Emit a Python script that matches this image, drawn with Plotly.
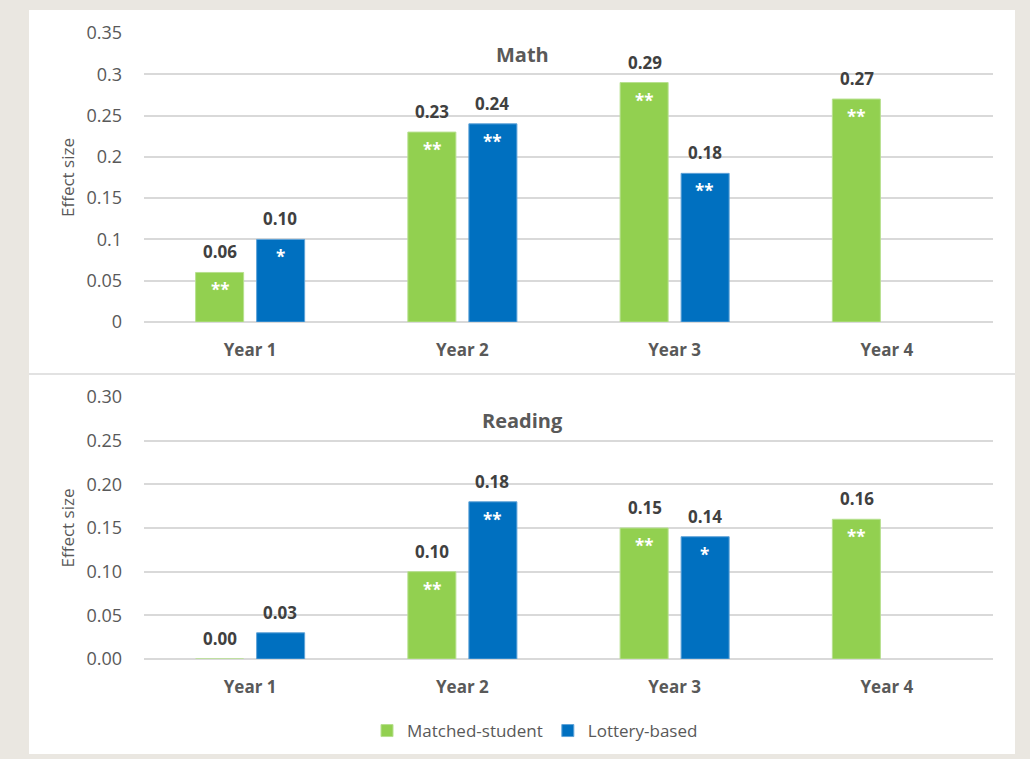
import plotly.graph_objects as go
from plotly.subplots import make_subplots

years = ["Year 1", "Year 2", "Year 3", "Year 4"]
math_matched = [0.06, 0.23, 0.29, 0.27]
math_lottery = [0.10, 0.24, 0.18, None]
read_matched = [0.00, 0.10, 0.15, 0.16]
read_lottery = [0.03, 0.18, 0.14, None]
math_matched_sig = ["**", "**", "**", "**"]
math_lottery_sig = ["*", "**", "**", ""]
read_matched_sig = ["", "**", "**", "**"]
read_lottery_sig = ["", "**", "*", ""]
math_ticks = [0, 0.05, 0.1, 0.15, 0.2, 0.25, 0.3, 0.35]
math_ticktext = ["0", "0.05", "0.1", "0.15", "0.2", "0.25", "0.3", "0.35"]
read_ticks = [0, 0.05, 0.10, 0.15, 0.20, 0.25, 0.30]
read_ticktext = ["0.00", "0.05", "0.10", "0.15", "0.20", "0.25", "0.30"]

GREEN = "#92D050"
BLUE = "#0070C0"
W, H = 1030, 759
FONT = "Open Sans"
DARK = "#404040"
GRAY = "#595959"
GRID = "#D9D9D9"

fig = make_subplots(rows=2, cols=1)

for row, (m, l) in enumerate([(math_matched, math_lottery), (read_matched, read_lottery)], start=1):
    fig.add_trace(go.Bar(x=years, y=m, name="Matched-student", marker=dict(color=GREEN, line=dict(color="#B7E08F", width=1)),
                         showlegend=(row == 1), legendgroup="m", hoverinfo="skip"), row=row, col=1)
    fig.add_trace(go.Bar(x=years, y=l, name="Lottery-based", marker=dict(color=BLUE, line=dict(color="#5FA3D8", width=1)),
                         showlegend=(row == 1), legendgroup="l", hoverinfo="skip"), row=row, col=1)

annotations = []
def add_labels(vals, sigs, xref, yref, shift, fmt):
    for yr, v, s in zip(years, vals, sigs):
        if v is None:
            continue
        annotations.append(dict(x=yr, y=v, xref=xref, yref=yref, xshift=shift, yshift=7,
                                text="<b>%s</b>" % fmt.format(v), showarrow=False, yanchor="bottom",
                                font=dict(family=FONT, size=17, color=DARK)))
        if s:
            annotations.append(dict(x=yr, y=v, xref=xref, yref=yref, xshift=shift, yshift=-4,
                                    text="<b>%s</b>" % s, showarrow=False, yanchor="top",
                                    font=dict(family=FONT, size=17, color="white")))

add_labels(math_matched, math_matched_sig, "x", "y", -30, "{:.2f}")
add_labels(math_lottery, math_lottery_sig, "x", "y", 30, "{:.2f}")
add_labels(read_matched, read_matched_sig, "x2", "y2", -30, "{:.2f}")
add_labels(read_lottery, read_lottery_sig, "x2", "y2", 30, "{:.2f}")

annotations.append(dict(x=522 / W, y=1 - 55 / H, xref="paper", yref="paper", yanchor="middle", text="<b>Math</b>",
                        showarrow=False, font=dict(family=FONT, size=20, color=GRAY)))
annotations.append(dict(x=522 / W, y=1 - 420 / H, xref="paper", yref="paper", yanchor="middle", text="<b>Reading</b>",
                        showarrow=False, font=dict(family=FONT, size=20, color=GRAY)))

xd = [144 / W, 993 / W]
xcommon = dict(domain=xd, tickfont=dict(family=FONT, size=17, color=GRAY), ticklabelstandoff=16,
               tickprefix="<b>", ticksuffix="</b>", showgrid=False, automargin=False)
ycommon = dict(gridcolor=GRID, gridwidth=1.5, zeroline=True, zerolinecolor=GRID, zerolinewidth=1.5,
               tickfont=dict(family=FONT, size=18, color=GRAY), ticklabelstandoff=21, automargin=False,
               title=dict(text="Effect size", font=dict(family=FONT, size=17, color=GRAY), standoff=7))
fig.update_layout(
    width=W, height=H, margin=dict(l=0, r=0, t=0, b=0, autoexpand=False),
    paper_bgcolor="#EAE7E1", plot_bgcolor="white",
    barmode="group", bargap=0.425, bargroupgap=0.213,
    font=dict(family=FONT, color=GRAY),
    annotations=annotations,
    shapes=[
        dict(type="rect", xref="paper", yref="paper", x0=29 / W, x1=1015 / W, y0=1 - 754 / H, y1=1 - 10 / H,
             fillcolor="white", line=dict(width=0), layer="below"),
        dict(type="line", xref="paper", yref="paper", x0=29 / W, x1=1015 / W, y0=1 - 374 / H, y1=1 - 374 / H,
             line=dict(color=GRID, width=1.5), layer="below"),
    ],
    legend=dict(orientation="h", x=535 / W, xanchor="center", y=1 - 731 / H, yanchor="middle",
                font=dict(family=FONT, size=17, color=GRAY), bgcolor="rgba(0,0,0,0)"),
    xaxis=dict(**xcommon),
    xaxis2=dict(**xcommon),
    yaxis=dict(domain=[1 - 322 / H, 1 - 33 / H], range=[0, 0.35], tickvals=math_ticks, ticktext=math_ticktext, **ycommon),
    yaxis2=dict(domain=[1 - 659 / H, 1 - 397 / H], range=[0, 0.30], tickvals=read_ticks, ticktext=read_ticktext, **ycommon),
)

fig.write_html("out.html", config={"displayModeBar": False},
               post_script="document.body.style.margin='0';document.body.style.overflow='hidden';")
